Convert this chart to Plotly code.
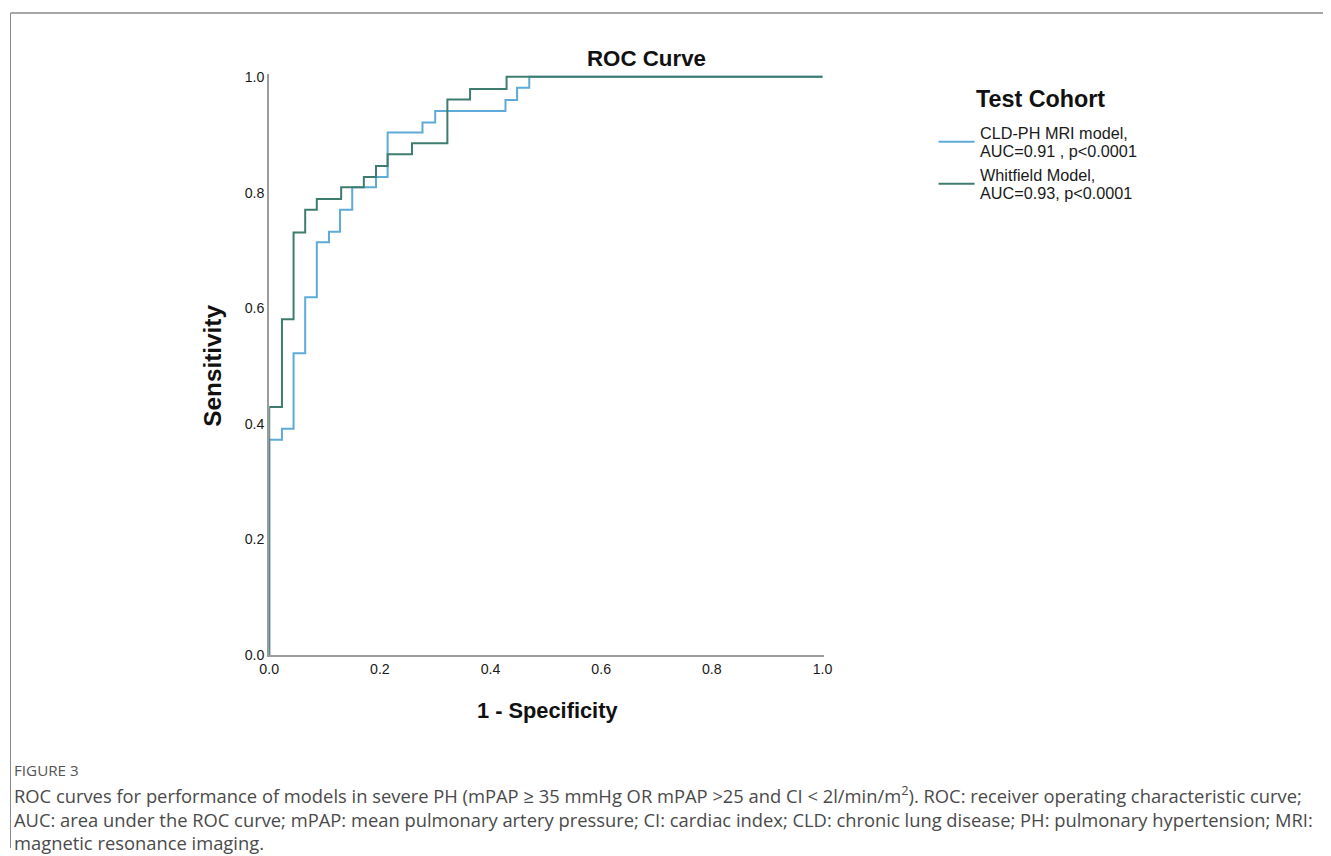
import plotly.graph_objects as go

# ---- data ----
cld_fpr = [0, 0, 0.023, 0.044, 0.065, 0.086, 0.108, 0.128, 0.150, 0.193, 0.214, 0.277, 0.300, 0.427, 0.448, 0.470, 1.0]
cld_tpr = [0, 0.3725, 0.3915, 0.522, 0.619, 0.714, 0.732, 0.770, 0.809, 0.827, 0.904, 0.921, 0.941, 0.960, 0.981, 1.0, 1.0]

whit_fpr = [0, 0, 0.023, 0.044, 0.065, 0.086, 0.130, 0.171, 0.193, 0.214, 0.258, 0.322, 0.363, 0.429, 1.0]
whit_tpr = [0, 0.429, 0.581, 0.731, 0.770, 0.789, 0.809, 0.827, 0.846, 0.866, 0.885, 0.961, 0.979, 1.0, 1.0]

legend_title = "Test Cohort"
series_lines = [["CLD-PH MRI model,", "AUC=0.91 , p<0.0001"],
                ["Whitfield Model,", "AUC=0.93, p<0.0001"]]
tick_vals = [0.0, 0.2, 0.4, 0.6, 0.8, 1.0]
tick_text = ["0.0", "0.2", "0.4", "0.6", "0.8", "1.0"]

W, H = 1331, 856
S, BX, BY = 0.986, 9.9, 4.05   # calibration of page -> picture
def RX(r):
    return (r - BX) / S
def RY(r):
    return (r - BY) / S
def px(r):
    return RX(r) / W
def py(r):
    return 1 - RY(r) / H
def fs(v):
    return v / S

BLUE = "#5eaad8"
GREEN = "#3f7c70"
colors = [BLUE, GREEN]

fig = go.Figure()
fig.add_trace(go.Scatter(x=cld_fpr, y=cld_tpr, mode="lines", line_shape="hv",
                         line=dict(color=BLUE, width=2), name=" ".join(series_lines[0])))
fig.add_trace(go.Scatter(x=whit_fpr, y=whit_tpr, mode="lines", line_shape="hv",
                         line=dict(color=GREEN, width=2), name=" ".join(series_lines[1])))

x0p, x1p = RX(269), RX(822)
y0p, y1p = RY(655), RY(76)
XEXT, YEXT = 0.003, 0.005
SANS = "Liberation Sans, Arial, sans-serif"
tickfont = dict(family=SANS, size=fs(14), color="#1a1a1a")
fig.update_layout(
    width=W, height=H,
    margin=dict(l=0, r=0, t=0, b=0),
    paper_bgcolor="white", plot_bgcolor="white",
    xaxis=dict(domain=[x0p / W, (x1p + XEXT * (x1p - x0p)) / W], range=[0, 1 + XEXT],
               showgrid=False, zeroline=False,
               showline=True, linecolor="#9c9c9c", linewidth=2, ticks="", layer="below traces",
               tickvals=tick_vals, ticktext=tick_text, tickfont=tickfont, fixedrange=True),
    yaxis=dict(domain=[1 - y0p / H, 1 - (y1p - YEXT * (y0p - y1p)) / H], range=[0, 1 + YEXT],
               showgrid=False, zeroline=False,
               showline=True, linecolor="#9c9c9c", linewidth=2, ticks="", layer="below traces",
               tickvals=tick_vals, ticktext=tick_text, tickfont=tickfont, fixedrange=True),
    showlegend=False,
)

def ann(text, x, y, size, xanchor="center", angle=0, family=SANS, color="#111"):
    fig.add_annotation(text=text, x=px(x), y=py(y), xref="paper", yref="paper",
                       xanchor=xanchor, yanchor="middle", showarrow=False, textangle=angle,
                       align="left", font=dict(family=family, size=fs(size), color=color))

ann("<b>ROC Curve</b>", 646.5, 58, 22)
ann("<b>Sensitivity</b>", 212, 365, 24, angle=-90)
ann("<b>1 - Specificity</b>", 547, 710, 21.5)

# legend (drawn manually to match the tight line spacing)
ann("<b>%s</b>" % legend_title, 973, 98, 23, xanchor="left")
leg_line_y = [141, 183]
leg_text_y = [[132, 150], [174, 192]]
for i in range(2):
    fig.add_shape(type="line", xref="paper", yref="paper", x0=px(938), x1=px(974),
                  y0=py(leg_line_y[i]), y1=py(leg_line_y[i]), line=dict(color=colors[i], width=2))
    for j in range(2):
        ann(series_lines[i][j], 977, leg_text_y[i][j], 16, xanchor="left", color="#1a1a1a")

# caption
CAP = "Open Sans, Lato, sans-serif"
ann("FIGURE 3", 12, 770, 15, xanchor="left", family=CAP, color="#555555")
cap_lines = [
    "ROC curves for performance of models in severe PH (mPAP ≥ 35 mmHg OR mPAP >25 and CI < 2l/min/m<sup>2</sup>). ROC: receiver operating characteristic curve;",
    "AUC: area under the ROC curve; mPAP: mean pulmonary artery pressure; CI: cardiac index; CLD: chronic lung disease; PH: pulmonary hypertension; MRI:",
    "magnetic resonance imaging.",
]
ann("<br>".join(cap_lines), 12, 818, 18.1, xanchor="left", family=CAP, color="#4a4a4a")

# frame
fig.add_shape(type="line", xref="paper", yref="paper", x0=0.5 / W, x1=1, y0=py(12), y1=py(12),
              line=dict(color="#a6a6a6", width=2))
fig.add_shape(type="line", xref="paper", yref="paper", x0=0.5 / W, x1=0.5 / W, y0=py(12), y1=0,
              line=dict(color="#8a8a8a", width=1))

fig.write_html("out.html", config={"displayModeBar": False},
               post_script="document.body.style.margin='0';document.body.style.overflow='hidden';")
